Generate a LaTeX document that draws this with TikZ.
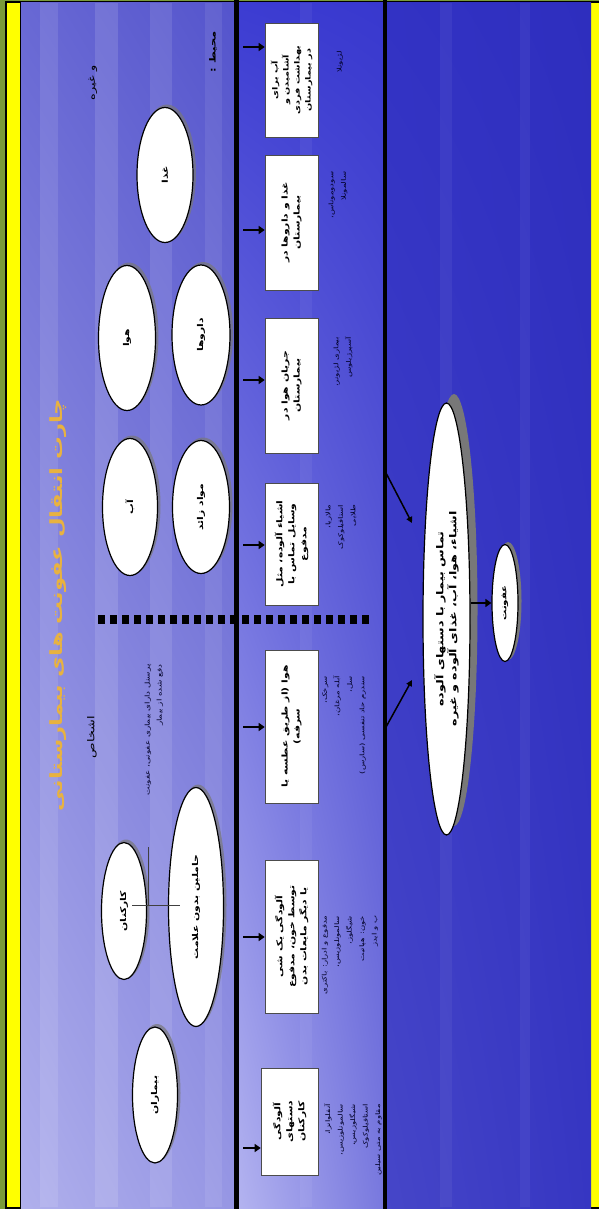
\documentclass[tikz,border=0pt]{standalone}
\usepackage{fontspec}
\usetikzlibrary{arrows.meta,shapes.geometric,shadings}
\TeXXeTstate=1
\newfontfamily\pfont[Script=Arabic,FakeStretch=1.35]{DejaVu Sans}
\newcommand{\ft}[1]{{\pfont\beginR #1\endR}}
\definecolor{olivebd}{RGB}{122,154,58}
\definecolor{ybd}{RGB}{255,255,0}
\definecolor{titlec}{RGB}{232,178,64}
\definecolor{shadowc}{RGB}{120,120,120}
\definecolor{lul}{RGB}{104,104,212}
\definecolor{lur}{RGB}{84,84,204}
\definecolor{lll}{RGB}{176,176,236}
\definecolor{llr}{RGB}{150,150,228}
\definecolor{mul}{RGB}{60,60,210}
\definecolor{mur}{RGB}{56,56,206}
\definecolor{mll}{RGB}{180,180,240}
\definecolor{mlr}{RGB}{120,120,222}
\definecolor{rul}{RGB}{50,50,196}
\definecolor{rur}{RGB}{46,46,190}
\definecolor{rll}{RGB}{70,70,200}
\definecolor{rlr}{RGB}{54,54,194}
\begin{document}
\begin{tikzpicture}[x=1pt,y=-1pt,
  bub/.style={ellipse, draw=black, line width=1.2pt, fill=white, inner sep=0pt, rotate=90, font=\bfseries\fontsize{8}{9}\selectfont, align=center},
  bubshadow/.style={ellipse, fill=shadowc, opacity=0.7, inner sep=0pt, rotate=90},
  boxn/.style={rectangle, draw=black!70, line width=0.6pt, fill=white, inner sep=0pt, rotate=90, minimum height=53pt, font=\bfseries\fontsize{8}{12}\selectfont, align=center},
  desc/.style={rotate=90, inner sep=0pt, font=\fontsize{6.3}{12.5}\selectfont, align=right, text=black!85!blue},
  lbl/.style={rotate=90, inner sep=0pt, font=\bfseries\fontsize{8.5}{10}\selectfont, text=black},
  arr/.style={line width=2.6pt, -{Triangle[length=6pt,width=8pt]}},
  darr/.style={line width=1.5pt, -{Triangle[length=6pt,width=6pt]}},
  vline/.style={line width=4.5pt, black}
]
\useasboundingbox (0,0) rectangle (599,1209);
% frame
\fill[olivebd] (0,0) rectangle (599,1209);
\fill[black] (5,1) rectangle (599,1209);
\fill[ybd] (7,3) rectangle (599,1207);
% background regions
\shade[upper left=lul, upper right=lur, lower left=lll, lower right=llr] (21,3) rectangle (237,1209);
\shade[upper left=mul, upper right=mur, lower left=mll, lower right=mlr] (237,3) rectangle (385,1209);
\shade[upper left=rul, upper right=rur, lower left=rll, lower right=rlr] (385,3) rectangle (591,1209);
\fill[black] (20,3) rectangle (21,1207);
% light streaks
\foreach \xa/\xb/\op in {40/58/0.10, 95/118/0.12, 150/172/0.10, 205/222/0.08, 300/312/0.05, 440/452/0.05, 520/530/0.05}{
  \fill[white, opacity=\op] (\xa,3) rectangle (\xb,1207);
}
% main vertical lines
\draw[vline] (236.5,0) -- (236.5,1209);
\draw[vline] (385,0) -- (385,1209);
% dashed separator
\draw[line width=9pt, black, dash pattern=on 7pt off 5pt] (98,619) -- (372,619);
% title
\node[rotate=90, inner sep=0pt, text=titlec, font=\bfseries\fontsize{16.8}{20}\selectfont] (title) at (58,605) {\ft{چارت انتقال عفونت های بیمارستانی}};
% labels
\node[lbl] (mohit) at (213,52) {\ft{محیط :}};
\node[lbl, font=\fontsize{9.5}{11}\selectfont] (gheyre) at (93,83) {\ft{و غیره}};
\node[lbl, font=\fontsize{9.5}{11}\selectfont] (ashkhas) at (92,737) {\ft{اشخاص}};
\node[desc, font=\fontsize{6.5}{12}\selectfont] (personel) at (154,730) {\ft{پرسنل دارای بیماری عفونی، عفونت}\\\ft{دفع شده از بیمار}};
% environment ellipses
\node[bubshadow, minimum width=137pt, minimum height=58pt] at (167,173) {};
\node[bub, minimum width=135pt, minimum height=56pt] (ghaza) at (165,175) {\ft{غذا}};
\node[bubshadow, minimum width=147pt, minimum height=59pt] at (129,336) {};
\node[bub, minimum width=145pt, minimum height=57pt] (hava) at (127,338) {\ft{هوا}};
\node[bubshadow, minimum width=142pt, minimum height=60pt] at (203,333) {};
\node[bub, minimum width=140pt, minimum height=58pt] (daru) at (201,335) {\ft{داروها}};
\node[bubshadow, minimum width=139pt, minimum height=57pt] at (132,505) {};
\node[bub, minimum width=137pt, minimum height=55pt] (ab) at (130,507) {\ft{آب}};
\node[bubshadow, minimum width=135pt, minimum height=59pt] at (203,505) {};
\node[bub, minimum width=133pt, minimum height=57pt] (mavad) at (201,507) {\ft{مواد زائد}};
% people ellipses
\node[bubshadow, minimum width=139pt, minimum height=47pt] at (126,909) {};
\node[bub, minimum width=137pt, minimum height=45pt] (karkonan) at (124,911) {\ft{کارکنان}};
\node[bubshadow, minimum width=241pt, minimum height=57pt] at (198,905) {};
\node[bub, minimum width=239pt, minimum height=55pt] (hamelin) at (196,907) {\ft{حاملین بدون علامت}};
\node[bubshadow, minimum width=138pt, minimum height=47pt] at (157,1093) {};
\node[bub, minimum width=136pt, minimum height=45pt] (bimaran) at (155,1095) {\ft{بیماران}};
% T connector between staff and carriers
\coordinate (tl) at (132,905);
\coordinate (tr) at (180,905);
\coordinate (tt) at (148,847);
\coordinate (tm) at (148,905);
\draw[line width=1pt, black!75] (tl) -- (tr);
\draw[line width=1pt, black!75] (tt) -- (tm);
% boxes
\node[boxn, minimum width=114pt, font=\bfseries\fontsize{7.2}{11}\selectfont] (b1) at (291.5,80) {\ft{آب برای}\\\ft{آشامیدن و}\\\ft{بهداشت فردی}\\\ft{در بیمارستان}};
\node[boxn, minimum width=135pt] (b2) at (291.5,222.5) {\ft{غذا و داروها در}\\\ft{بیمارستان}};
\node[boxn, minimum width=135pt] (b3) at (291.5,385.5) {\ft{جریان هوا در}\\\ft{بیمارستان}};
\node[boxn, minimum width=122pt] (b4) at (291.5,544) {\ft{اشیاء آلوده، مثل}\\\ft{وسایل تماس با}\\\ft{مدفوع}};
\node[boxn, minimum width=153pt] (b5) at (291.5,726.5) {\ft{هوا (از طریق عطسه یا}\\\ft{سرفه)}};
\node[boxn, minimum width=153pt] (b6) at (291.5,936.5) {\ft{آلودگی یک شی}\\\ft{توسط خون، مدفوع}\\\ft{یا دیگر مایعات بدن}};
\node[boxn, minimum width=107pt, minimum height=57pt] (b7) at (289.5,1121.5) {\ft{آلودگی}\\\ft{دستهای}\\\ft{کارکنان}};
% arrows into boxes
\foreach \i/\yy in {1/47,2/230,3/380,4/545,5/727,6/937,7/1148}{
  \coordinate (s\i) at (243,\yy);
  \draw[arr] (s\i) -- (s\i -| b\i.north);
}
% descriptions
\node[desc] (d1) at (340,62) {\ft{لژیونلا}};
\node[desc] (d2) at (338,195) {\ft{سودوموناس،}\\\ft{سالمونلا}};
\node[desc] (d3) at (343,362) {\ft{بیماری لژیونر،}\\\ft{آسپرژیلوس}};
\node[desc] (d4) at (341,527) {\ft{مالاریا،}\\\ft{استافیلوکوک}\\\ft{طلایی}};
\node[desc] (d5) at (344,725) {\ft{سرخک،}\\\ft{آبله مرغان،}\\\ft{سل،}\\\ft{سندرم حاد تنفسی (سارس)}};
\node[desc] (d6) at (350,955) {\ft{مدفوع و ادرار: باکتری}\\\ft{سالمونلوزیس،}\\\ft{شیگلوز،}\\\ft{خون: هپاتیت}\\\ft{ب و ایدز}};
\node[desc] (d7) at (353,1140) {\ft{آنفلوانزا،}\\\ft{سالمونلوزیس،}\\\ft{شیگلوزیس،}\\\ft{استافیلوکوک}\\\ft{مقاوم به متی سیلین}};
% right part: contact and infection
\node[ellipse, fill=shadowc, rotate=90, inner sep=0pt, minimum width=432pt, minimum height=47pt] at (454,610) {};
\node[bub, minimum width=432pt, minimum height=47pt, font=\bfseries\fontsize{9.5}{13}\selectfont] (tamas) at (446.5,619) {\ft{تماس بیمار با دستهای آلوده}\\\ft{اشیاء، هوا، آب، غذای آلوده و غیره}};
\node[ellipse, fill=shadowc, rotate=90, inner sep=0pt, minimum width=118pt, minimum height=27pt] at (508,601) {};
\node[bub, minimum width=117pt, minimum height=26pt, font=\bfseries\fontsize{7.5}{9}\selectfont] (ofunat) at (505,603) {\ft{عفونت}};
\draw[arr, line width=2.4pt] (tamas.south |- ofunat.center) -- (ofunat.north);
\coordinate (u1) at (386,473);
\coordinate (u1e) at (412,523);
\coordinate (l1) at (386,727);
\coordinate (l1e) at (412,680);
\draw[darr] (u1) -- (u1e);
\draw[darr] (l1) -- (l1e);
\end{tikzpicture}
\end{document}
